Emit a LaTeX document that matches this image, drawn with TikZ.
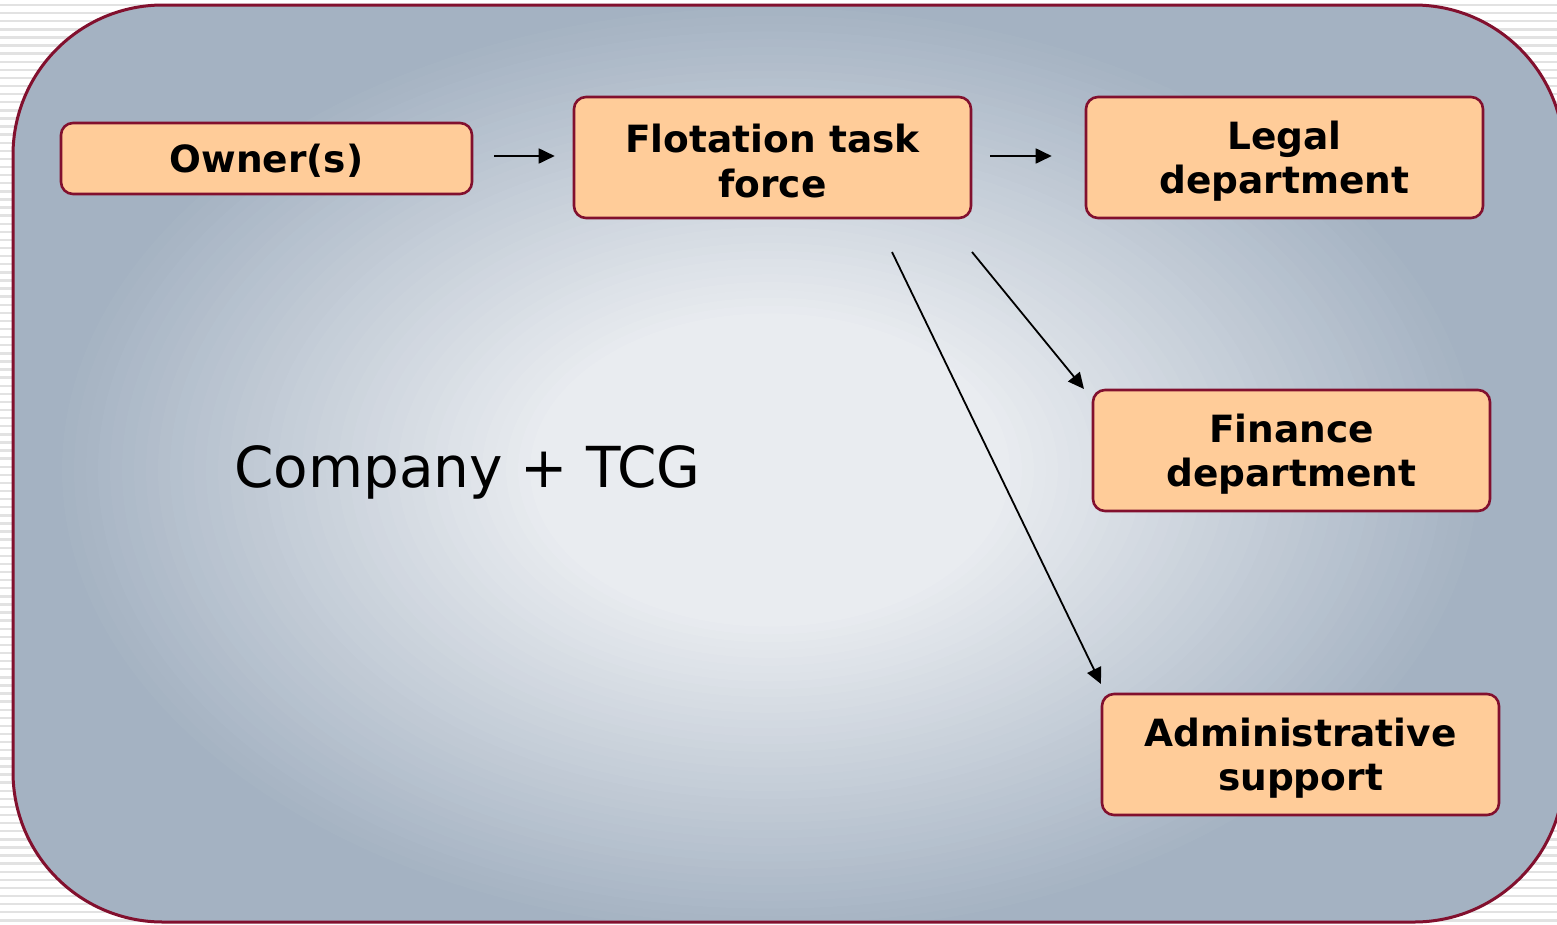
\documentclass[tikz,border=0pt]{standalone}
\usepackage{fontspec}
\setmainfont{DejaVu Sans}
\usetikzlibrary{arrows.meta,calc}
\definecolor{bord}{RGB}{130,16,46}
\definecolor{boxfill}{RGB}{255,204,153}
\definecolor{cin}{RGB}{233,236,240}
\definecolor{cout}{RGB}{164,178,194}
\definecolor{stripe}{RGB}{226,226,226}
\tikzset{
  box/.style={draw=bord, line width=2.6pt, fill=boxfill, rounded corners=12pt,
    inner sep=0pt, align=center, minimum width=397pt, minimum height=121pt,
    font=\fontsize{37.5}{44.5}\selectfont\bfseries},
  arr/.style={draw=black, line width=1.8pt, -{Triangle[length=16pt,width=15pt]}},
  stripeline/.style={draw=stripe, line width=2.4pt}
}
\newcommand{\tallstrut}{\rule{0pt}{36pt}}
\begin{document}
\begin{tikzpicture}[x=1pt,y=-1pt]
\useasboundingbox (0,0) rectangle (1557,924);
\clip (0,0) rectangle (1557,924);
% striped page background
\fill[white] (0,0) rectangle (1557,924);
\foreach \k in {0,...,114} {
  \draw[stripeline] (0,{5+8.1*\k}) -- (1557,{5+8.1*\k});
}
% big rounded panel with soft central glow
\begin{scope}
  \clip[rounded corners=150pt] (13,5) rectangle (1564,922);
  \fill[cout] (13,5) rectangle (1564,922);
  \foreach \i in {60,...,20} {
    \pgfmathsetmacro{\t}{\i/60}
    \pgfmathsetmacro{\mix}{max(0,min(100,(1-\t)/(1-0.33)*100))}
    \fill[cin!\mix!cout] (770,470) ellipse [x radius={720*\t}, y radius={470*\t}];
  }
\end{scope}
\draw[bord, line width=3pt, rounded corners=150pt] (13,5) rectangle (1564,922);

% boxes
\node[box, minimum width=411pt, minimum height=71pt] (own) at (266.5,158.5) {\rule{0pt}{32pt}Owner(s)};
\node[box] (flo) at (772.5,157.5) {\tallstrut Flotation task\\force};
\node[box] (leg) at (1284.5,157.5) {\tallstrut Legal\\department};
\node[box] (fin) at (1291.5,450.5) {\tallstrut Finance\\department};
\node[box] (adm) at (1300.5,754.5) {\tallstrut Administrative\\support};

\node[anchor=base west, inner sep=0pt, font=\fontsize{56.5}{60}\selectfont] (ctcg) at (234,487) {Company + TCG};

% connectors
\draw[arr, shorten <=21pt, shorten >=18pt] (own.east |- 0,156) -- (flo.west |- 0,156);
\draw[arr, shorten <=18pt, shorten >=33pt] (flo.east |- 0,156) -- (leg.west |- 0,156);
\coordinate (s1) at (972,252);
\coordinate (e1) at (1084,389);
\coordinate (s2) at (892,252);
\coordinate (e2) at (1101,684);
\draw[arr] (s1) -- (e1);
\draw[arr] (s2) -- (e2);
\end{tikzpicture}
\end{document}
